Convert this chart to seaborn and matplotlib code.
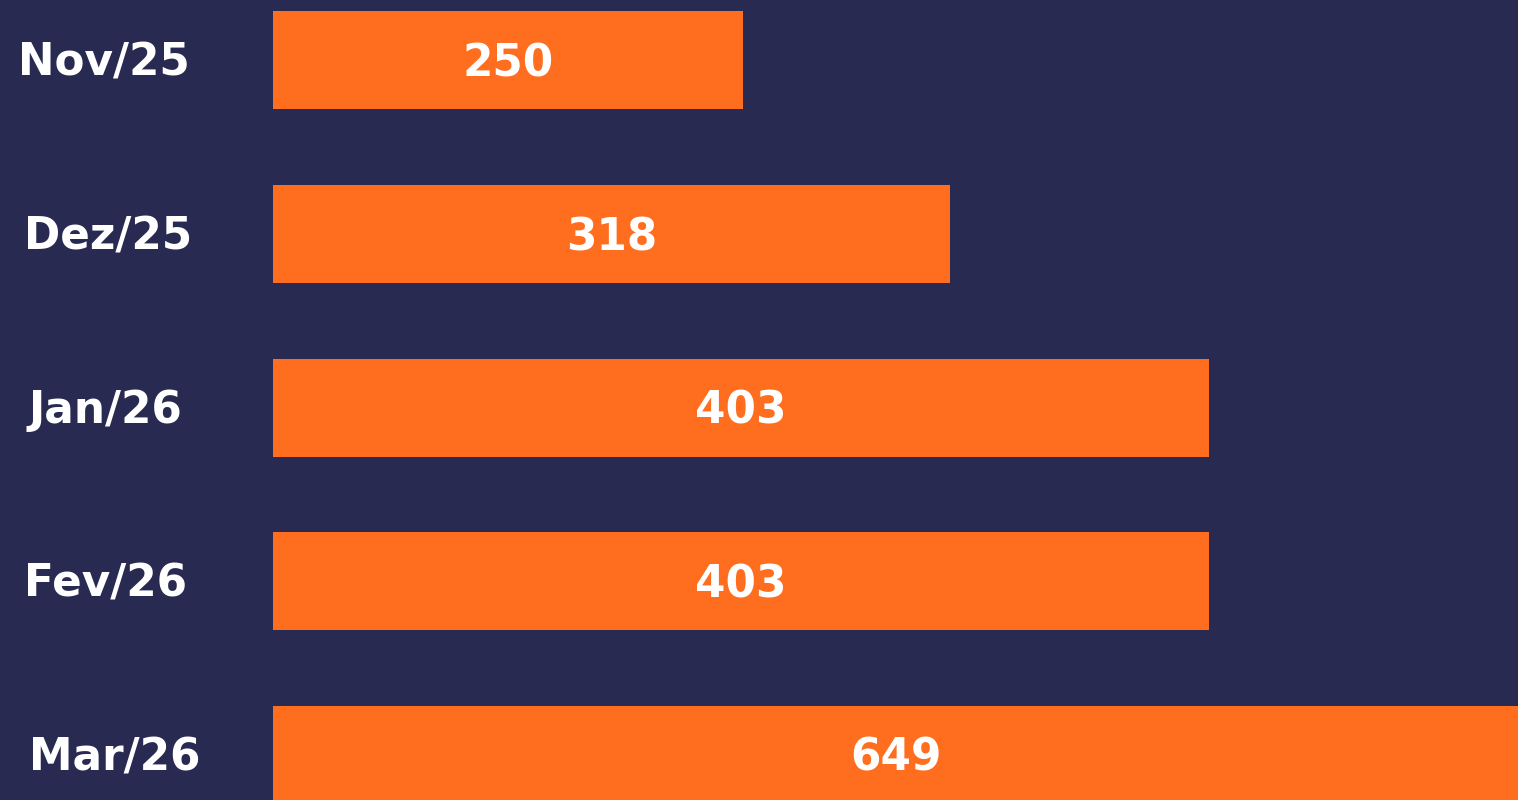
import matplotlib
matplotlib.use("Agg")
import matplotlib.pyplot as plt
import matplotlib.transforms as mtransforms
import seaborn as sns
import pandas as pd

months = ["Nov/25", "Dez/25", "Jan/26", "Fev/26", "Mar/26"]
values = [250, 318, 403, 403, 649]

BG = "#282A52"
ORANGE = "#FF6D1E"

sns.set_theme(style="white")
plt.rcParams["font.family"] = ["DejaVu Sans"]

df = pd.DataFrame({"mes": months, "valor": values})

fig = plt.figure(figsize=(15.18, 8.0), dpi=100, facecolor=BG)
ax = fig.add_axes([273 / 1518, 0, 1 - 273 / 1518, 1])
ax.set_facecolor(BG)

sns.barplot(data=df, y="mes", x="valor", orient="h", color=ORANGE,
            saturation=1, width=0.565, ax=ax, order=months, linewidth=0,
            edgecolor=ORANGE)

x0, x1 = 95.8, 504.5
ax.set_xlim(x0, x1)
ax.set_ylim(4.259, -0.348)
for s in ax.spines.values():
    s.set_visible(False)
ax.set_xticks([])
ax.set_yticks([])
ax.set_xlabel("")
ax.set_ylabel("")

trans = mtransforms.blended_transform_factory(fig.transFigure, ax.transData)
label_x = [104, 108, 105, 106, 115]
for i, (m, v) in enumerate(zip(months, values)):
    ax.text(label_x[i] / 1518, i + 0.015, m, transform=trans, ha="center", va="center",
            color="white", fontsize=31.5, fontweight="bold")
    right = min(v, x1)
    ax.text((x0 + right) / 2, i + 0.02, f"{v}", ha="center", va="center",
            color="white", fontsize=31.5, fontweight="bold")

fig.savefig("out.png", dpi=100, facecolor=BG)
